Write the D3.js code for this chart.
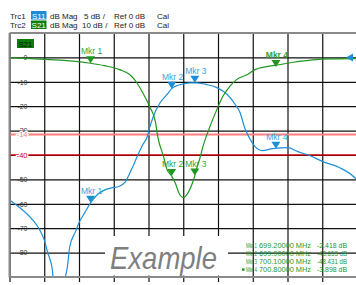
<!DOCTYPE html>
<html>
<head>
<meta charset="utf-8">
<script src="https://cdn.jsdelivr.net/npm/d3@7"></script>
<style>
  body { margin: 0; background: #fff; }
  text { font-family: "Liberation Sans", Arial, sans-serif; }
</style>
</head>
<body>
<div id="chart"></div>
<script>
// S21 trace (dB, 10 dB/div)
const s21Freq = [698.5, 698.68, 698.85, 699.02, 699.2, 699.32, 699.45, 699.54, 699.6, 699.65, 699.71,
  699.76, 699.78, 699.83, 699.86, 699.9, 699.93, 699.97, 700.0, 700.03, 700.08, 700.1, 700.12, 700.14,
  700.17, 700.23, 700.29, 700.34, 700.4, 700.46, 700.55, 700.62, 700.72, 700.8, 700.95, 701.12, 701.29, 701.5];
const s21Db = [-0.1, -0.5, -0.9, -1.4, -2.4, -3.4, -5.0, -7.1, -10.4, -14.5, -20.2,
  -26.4, -32.5, -40.7, -46.0, -48.65, -51.4, -56.3, -57.5, -56.3, -51.4, -48.43, -44.8, -41.9,
  -36.6, -28.4, -21.4, -16.1, -12.0, -9.1, -7.1, -5.0, -3.8, -3.2, -2.0, -1.0, -0.6, -0.5];

// S11 trace (dB, 5 dB/div)
const s11Freq = [698.5, 698.59, 698.7, 698.76, 698.8, 698.83, 698.87, 698.88, 698.92, 698.96, 699.0,
  699.02, 699.07, 699.1, 699.15, 699.2, 699.26, 699.31, 699.39, 699.44, 699.5, 699.56, 699.61, 699.65,
  699.69, 699.71, 699.74, 699.8, 699.86, 699.9, 699.97, 700.06, 700.12, 700.21, 700.29, 700.38, 700.45,
  700.49, 700.53, 700.58, 700.62, 700.68, 700.77, 700.9, 700.99, 701.09, 701.21, 701.35, 701.47, 701.5];
const s11Db = [-29.2, -30.8, -33.3, -35.3, -37.4, -40.0, -43.5, -46.6, -50.0, -46.6, -42.9,
  -38.8, -35.7, -33.9, -31.8, -29.8, -28.1, -27.3, -26.7, -26.5, -25.5, -22.6, -19.9, -17.9,
  -16.2, -14.4, -12.2, -9.3, -7.6, -6.4, -5.6, -5.2, -5.2, -5.6, -6.2, -7.6, -9.7,
  -11.3, -14.4, -16.9, -18.3, -19.1, -18.7, -18.5, -19.3, -20.1, -21.4, -22.6, -24.4, -25.1];

const markerNames = ["Mkr 1", "Mkr 2", "Mkr 3", "Mkr 4"];
const markerFreq = [699.2, 699.9, 700.1, 700.8];
const markerS21 = [-2.418, -48.653, -48.431, -3.898];
const markerS11 = [-29.8, -6.4, -5.2, -18.7];
const markerFreqText = ["699.20000 MHz", "699.90000 MHz", "700.10000 MHz", "700.80000 MHz"];
const markerValText = ["-2.418 dB", "-48.653 dB", "-48.431 dB", "-3.898 dB"];

const gridFreqs = [698.5, 698.8, 699.1, 699.4, 699.7, 700.0, 700.3, 700.6, 700.9, 701.2, 701.5];
const s21Ticks = [10, 0, -10, -20, -30, -40, -50, -60, -70, -80, -90];
const s21Labels = ["", "0", "-10", "-20", "-30", "-40", "-50", "-60", "-70", "-80", ""];

// limit lines, positioned on the S21 scale
const limitLabels = ["-14", "-40"];
const limitValues = [-31.6, -40];
const limitColors = ["#ff7c7c", "#c80000"];

const W = 356, H = 285;
const plot = { left: 9.5, right: 357, top: 33, bottom: 277 };
const blue = "#1f8fd6", blueText = "#3a9fe0";
const green = "#1f961f", greenText = "#36a336";

const svg = d3.select("#chart").append("svg")
  .attr("width", W).attr("height", H);

const x = d3.scaleLinear().domain([698.5, 701.5]).range([plot.left, plot.right]);
const y21 = d3.scaleLinear().domain([10, -90]).range([plot.top, plot.bottom]);
const y11 = d3.scaleLinear().domain([5, -45]).range([plot.top, plot.bottom]);

// header
const header = [
  { row: 0, trc: "Trc1", s: "S11", col: "#1f8ad8", scale: "5 dB /", sx: 84 },
  { row: 1, trc: "Trc2", s: "S21", col: "#0b7d0b", scale: "10 dB /", sx: 82 },
];
header.forEach((h) => {
  const by = 18.5 + h.row * 9.5;
  svg.append("text").attr("x", 10).attr("y", by).attr("font-size", 8).attr("fill", "#222").text(h.trc);
  svg.append("rect").attr("x", 31).attr("y", by - 7.5).attr("width", 15.5).attr("height", 8.5).attr("fill", h.col);
  svg.append("text").attr("x", 38.7).attr("y", by).attr("font-size", 8).attr("fill", "#fff")
    .attr("text-anchor", "middle").text(h.s);
  svg.append("text").attr("x", 50).attr("y", by).attr("font-size", 8).attr("fill", "#222").text("dB Mag");
  svg.append("text").attr("x", h.sx).attr("y", by).attr("font-size", 8).attr("fill", "#222").text(h.scale);
  svg.append("text").attr("x", 114).attr("y", by).attr("font-size", 8).attr("fill", "#222").text("Ref 0 dB");
  svg.append("text").attr("x", 157).attr("y", by).attr("font-size", 8).attr("fill", "#222").text("Cal");
});

// vertical grid
const xg = svg.append("g")
  .attr("transform", `translate(0,${plot.bottom + 5})`)
  .call(d3.axisBottom(x).tickValues(gridFreqs).tickSize(-(plot.bottom + 5 - plot.top)).tickFormat(""));
xg.select(".domain").remove();
xg.selectAll("line").attr("stroke", "#111").attr("stroke-width", 1.2);

// horizontal grid + labels
const yg = svg.append("g")
  .attr("transform", `translate(${plot.left},0)`)
  .call(d3.axisLeft(y21).tickValues(s21Ticks).tickSize(-(plot.right - plot.left))
    .tickPadding(-18).tickFormat((d, i) => s21Labels[i]));
yg.select(".domain").remove();
yg.selectAll("line").attr("stroke", "#111").attr("stroke-width", 1.2);
yg.selectAll("text").attr("font-size", 7).attr("fill", "#333")
  .attr("font-family", "'Liberation Sans', Arial, sans-serif").attr("text-anchor", "end");

// limit lines
limitValues.forEach((v, i) => {
  svg.append("line").attr("x1", plot.left).attr("x2", plot.right)
    .attr("y1", y21(v)).attr("y2", y21(v))
    .attr("stroke", limitColors[i]).attr("stroke-width", i === 0 ? 2 : 1.5);
});

// traces
svg.append("clipPath").attr("id", "clip").append("rect")
  .attr("x", plot.left).attr("y", plot.top)
  .attr("width", plot.right - plot.left).attr("height", plot.bottom - plot.top);

const line21 = d3.line().x((d, i) => x(s21Freq[i])).y((d) => y21(d)).curve(d3.curveMonotoneX);
const line11 = d3.line().x((d, i) => x(s11Freq[i])).y((d) => y11(d)).curve(d3.curveMonotoneX);

svg.append("path").datum(s11Db).attr("d", line11).attr("fill", "none")
  .attr("stroke", blue).attr("stroke-width", 1.2).attr("clip-path", "url(#clip)");
svg.append("path").datum(s21Db).attr("d", line21).attr("fill", "none")
  .attr("stroke", green).attr("stroke-width", 1.2).attr("clip-path", "url(#clip)");

// markers
function drawMarker(px, py, col, tcol, name, bold) {
  svg.append("path")
    .attr("d", `M${px},${py} L${px - 4.5},${py - 7} L${px + 4.5},${py - 7} Z`)
    .attr("fill", col);
  svg.append("text").attr("x", px + 1).attr("y", py - 9)
    .attr("text-anchor", "middle").attr("font-size", 8.5)
    .attr("font-weight", bold ? "bold" : "normal")
    .attr("fill", tcol).text(name);
}
markerFreq.forEach((f, i) => {
  drawMarker(x(f), y11(markerS11[i]), blue, blueText, markerNames[i], false);
  drawMarker(x(f), y21(markerS21[i]), green, greenText, markerNames[i], i === 3);
});

// reference arrow for S11 on the right edge
svg.append("path")
  .attr("d", `M${346},${y11(0)} L${353},${y11(0) - 4} L${353},${y11(0) + 4} Z`)
  .attr("fill", blue);

// limit labels drawn over the grid labels
limitValues.forEach((v, i) => {
  svg.append("text").attr("x", 27.5).attr("y", y21(v) + 2.5)
    .attr("text-anchor", "end").attr("font-size", 7.5).attr("fill", limitColors[i])
    .attr("stroke", "#fff").attr("stroke-width", 2.5).attr("paint-order", "stroke")
    .text(limitLabels[i]);
});

// S21 tag inside plot
svg.append("rect").attr("x", 17).attr("y", 39).attr("width", 17).attr("height", 9).attr("fill", "#0b7d0b");
svg.append("text").attr("x", 25.5).attr("y", 46.5).attr("text-anchor", "middle")
  .attr("font-size", 7.5).attr("fill", "#111").text("S21");

// marker readout
markerNames.forEach((m, i) => {
  const by = 248 + i * 8.1;
  svg.append("text").attr("x", 246).attr("y", by).attr("font-size", 7).attr("fill", green)
    .attr("textLength", 11).attr("lengthAdjust", "spacingAndGlyphs").text(m);
  svg.append("text").attr("x", 259).attr("y", by).attr("font-size", 7).attr("fill", green)
    .attr("textLength", 52).attr("lengthAdjust", "spacingAndGlyphs").text(markerFreqText[i]);
  svg.append("text").attr("x", 317).attr("y", by).attr("font-size", 7).attr("fill", green)
    .attr("textLength", 30).attr("lengthAdjust", "spacingAndGlyphs").text(markerValText[i]);
  if (i === 3) {
    svg.append("rect").attr("x", 242).attr("y", by - 4).attr("width", 2.5).attr("height", 2.5).attr("fill", green);
  }
});

// Example watermark
svg.append("rect").attr("x", 105).attr("y", 236).attr("width", 123).attr("height", 39.5).attr("fill", "#fff");
svg.append("text").attr("x", 110).attr("y", 269).attr("font-size", 32).attr("font-style", "italic")
  .attr("fill", "#7f7f7f").attr("textLength", 107).attr("lengthAdjust", "spacingAndGlyphs").text("Example");

// borders
svg.append("line").attr("x1", plot.left).attr("x2", plot.right).attr("y1", plot.top).attr("y2", plot.top)
  .attr("stroke", "#8a8a8a").attr("stroke-width", 2);
svg.append("line").attr("x1", plot.left).attr("x2", plot.right).attr("y1", plot.bottom).attr("y2", plot.bottom)
  .attr("stroke", "#8a8a8a").attr("stroke-width", 2);
svg.append("line").attr("x1", plot.left).attr("x2", plot.left).attr("y1", plot.top).attr("y2", plot.bottom)
  .attr("stroke", "#8a8a8a").attr("stroke-width", 2);

// footer
const footer = [["Ch1", 10], ["Center 700 MHz", 35], ["Pwr 0 dBm", 162], ["Span 3 MHz", 310]];
footer.forEach((f) => {
  svg.append("text").attr("x", f[1]).attr("y", 289.5).attr("font-size", 8).attr("fill", "#222").text(f[0]);
});
</script>
</body>
</html>
